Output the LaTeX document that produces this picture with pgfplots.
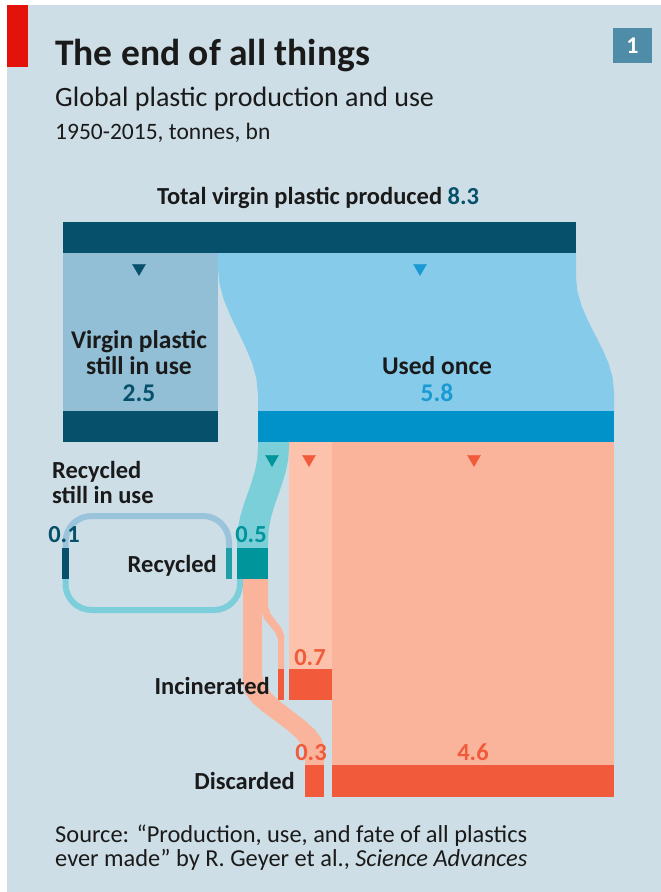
\documentclass[border=0pt]{standalone}
\usepackage{pgfplots}
\pgfplotsset{compat=1.18}
\usepackage{fontspec}
\setmainfont{Carlito}
\definecolor{bg}{HTML}{CDDEE7}
\definecolor{ecored}{HTML}{E3120B}
\definecolor{boxblue}{HTML}{4F8CA8}
\definecolor{dteal}{HTML}{07506B}
\definecolor{virgin}{HTML}{92BFD6}
\definecolor{usedflow}{HTML}{87CBEA}
\definecolor{usedbar}{HTML}{0092C8}
\definecolor{usedtxt}{HTML}{1A9AD3}
\definecolor{tealflow}{HTML}{7ACFD9}
\definecolor{recbar}{HTML}{00949B}
\definecolor{recthin}{HTML}{1FA0A8}
\definecolor{looptop}{HTML}{9AC4DB}
\definecolor{loopbot}{HTML}{7CCFDA}
\definecolor{incflow}{HTML}{FCC2AC}
\definecolor{disflow}{HTML}{F9B49B}
\definecolor{redbar}{HTML}{F15A3B}
\definecolor{ink}{HTML}{1A1A1A}
\newcommand\fs[1]{\fontsize{#1bp}{#1bp}\selectfont}
\begin{document}
\begin{tikzpicture}
\begin{axis}[width=661bp,height=892bp,scale only axis,
  xmin=0,xmax=661,ymin=0,ymax=892,y dir=reverse,hide axis,clip=false]
% background
\addplot[fill=white,draw=none] coordinates {(0,0)(661,0)(661,892)(0,892)} --cycle;
\addplot[fill=bg,draw=none] coordinates {(7,5)(661,5)(661,892)(7,892)} --cycle;
\addplot[fill=ecored,draw=none] coordinates {(7,5)(28,5)(28,67)(7,67)} --cycle;
\addplot[fill=boxblue,draw=none] coordinates {(613,28)(652,28)(652,63)(613,63)} --cycle;
% total virgin plastic 8.3
\addplot[fill=dteal,draw=none] coordinates {(63,222)(576,222)(576,253)(63,253)} --cycle;
% virgin still in use 2.5
\addplot[fill=virgin,draw=none] coordinates {(63,253)(218,253)(218,411)(63,411)} --cycle;
\addplot[fill=dteal,draw=none] coordinates {(63,411)(218,411)(218,442)(63,442)} --cycle;
% used once flow 5.8
\addplot[fill=usedflow,draw=none] coordinates {
 (218,253)(576,253)(576,277)(577.4,291.4)(581.5,305.75)(587.7,320.1)(595,334.5)
 (602.3,348.9)(608.5,363.25)(612.6,377.6)(614,392)(614,412)
 (258,412)(258,395)(256.5,379.1)(252.2,363.25)(245.6,347.4)(238,331.5)
 (230.4,315.6)(223.8,299.75)(219.5,283.9)(218,268)} --cycle;
\addplot[fill=usedbar,draw=none] coordinates {(258,411)(614,411)(614,442)(258,442)} --cycle;
% incinerated and discarded flows
\addplot[fill=incflow,draw=none] coordinates {(289,442)(332,442)(332,669)(289,669)} --cycle;
\addplot[fill=disflow,draw=none] coordinates {(332,442)(614,442)(614,765)(332,765)} --cycle;
% recycled flow 0.5
\addplot[fill=tealflow,draw=none] coordinates {
 (258,442)(289,442)(289,448)(288.2,459.5)(285.9,471)(282.5,482.5)(278.5,494)
 (274.5,505.5)(271.1,517)(268.8,528.5)(268,540)(268,548)
 (237,548)(237,540)(237.8,528.5)(240.1,517)(243.5,505.5)(247.5,494)
 (251.5,482.5)(254.9,471)(257.2,459.5)(258,448)} --cycle;
% loops
\addplot[draw=looptop,line width=6bp,rounded corners=26bp] coordinates {(65.5,549)(65.5,516)(229,516)(229,549)};
\addplot[draw=loopbot,line width=6bp,rounded corners=26bp] coordinates {(240,578)(240,610)(65.5,610)(65.5,578)};
% pink flows from recycled
\addplot[fill=disflow,draw=none] coordinates {
 (243,579)(262,579)(262,675)(264.4,684.1)(271.1,693.25)(281.2,702.4)(293,711.5)
 (304.8,720.6)(314.9,729.75)(321.6,738.9)(324,748)(324,765)
 (305,765)(305,755)(302.6,746.25)(295.9,737.5)(285.8,728.75)(274,720)
 (262.2,711.25)(252.1,702.5)(245.4,693.75)(243,685)} --cycle;
\addplot[fill=disflow,draw=none] coordinates {
 (262,579)(268,579)(268,606)(270.3,613.5)(276,621)(281.7,628.5)(284,636)(284,669)
 (278,669)(278,640)(275.7,633)(270,626)(264.3,619)(262,612)} --cycle;
% recycled bars
\addplot[fill=recbar,draw=none] coordinates {(237,548)(268,548)(268,579)(237,579)} --cycle;
\addplot[fill=recthin,draw=none] coordinates {(226,548)(232,548)(232,579)(226,579)} --cycle;
\addplot[fill=dteal,draw=none] coordinates {(62,548)(69,548)(69,579)(62,579)} --cycle;
% incinerated bars
\addplot[fill=redbar,draw=none] coordinates {(289,669)(332,669)(332,700)(289,700)} --cycle;
\addplot[fill=redbar,draw=none] coordinates {(278,669)(284,669)(284,700)(278,700)} --cycle;
% discarded bars
\addplot[fill=redbar,draw=none] coordinates {(332,765)(614,765)(614,797)(332,797)} --cycle;
\addplot[fill=redbar,draw=none] coordinates {(305,765)(324,765)(324,797)(305,797)} --cycle;
% triangles
\addplot[only marks,mark=triangle*,mark size=7.5bp,color=dteal,mark options={rotate=180}] coordinates {(139,268)};
\addplot[only marks,mark=triangle*,mark size=7.5bp,color=usedtxt,mark options={rotate=180}] coordinates {(420,268)};
\addplot[only marks,mark=triangle*,mark size=7.5bp,color=recbar,mark options={rotate=180}] coordinates {(272,459)};
\addplot[only marks,mark=triangle*,mark size=7.5bp,color=redbar,mark options={rotate=180}] coordinates {(309,459)};
\addplot[only marks,mark=triangle*,mark size=7.5bp,color=redbar,mark options={rotate=180}] coordinates {(474,459)};
% texts
\node[anchor=base west,inner sep=0,text=ink] at (axis cs:55,66) {\fs{37.5}\bfseries The end of all things};
\node[anchor=base west,inner sep=0,text=ink] at (axis cs:55,107) {\fs{28}Global plastic production and use};
\node[anchor=base west,inner sep=0,text=ink] at (axis cs:55,140) {\fs{23.5}1950-2015, tonnes, bn};
\node[anchor=center,inner sep=0,text=white] at (axis cs:632.5,45.5) {\fs{24}\bfseries 1};
\node[anchor=base,inner sep=0,text=ink] at (axis cs:318,205) {\fs{24.5}\bfseries Total virgin plastic produced \textcolor{dteal}{8.3}};
\node[anchor=base,inner sep=0,text=ink] at (axis cs:139,348) {\fs{25.5}\bfseries Virgin plastic};
\node[anchor=base,inner sep=0,text=ink] at (axis cs:139,374) {\fs{25.5}\bfseries still in use};
\node[anchor=base,inner sep=0,text=dteal] at (axis cs:139,401) {\fs{25.5}\bfseries 2.5};
\node[anchor=base,inner sep=0,text=ink] at (axis cs:437,374) {\fs{25.5}\bfseries Used once};
\node[anchor=base,inner sep=0,text=usedtxt] at (axis cs:437,401) {\fs{25.5}\bfseries 5.8};
\node[anchor=base west,inner sep=0,text=ink] at (axis cs:52,478) {\fs{24.5}\bfseries Recycled};
\node[anchor=base west,inner sep=0,text=ink] at (axis cs:52,503) {\fs{24.5}\bfseries still in use};
\node[anchor=base,inner sep=0,text=dteal] at (axis cs:64,542) {\fs{24.5}\bfseries 0.1};
\node[anchor=base,inner sep=0,text=recbar] at (axis cs:251,542) {\fs{24.5}\bfseries 0.5};
\node[anchor=base east,inner sep=0,text=ink] at (axis cs:217,572) {\fs{24.5}\bfseries Recycled};
\node[anchor=base east,inner sep=0,text=ink] at (axis cs:270,694) {\fs{24.5}\bfseries Incinerated};
\node[anchor=base,inner sep=0,text=redbar] at (axis cs:310,665) {\fs{24.5}\bfseries 0.7};
\node[anchor=base,inner sep=0,text=redbar] at (axis cs:311,760) {\fs{24.5}\bfseries 0.3};
\node[anchor=base,inner sep=0,text=redbar] at (axis cs:473,760) {\fs{24.5}\bfseries 4.6};
\node[anchor=base east,inner sep=0,text=ink] at (axis cs:295,789) {\fs{24.5}\bfseries Discarded};
\node[anchor=base west,inner sep=0,text=ink] at (axis cs:55,842) {\fs{24.4}Source: “Production, use, and fate of all plastics};
\node[anchor=base west,inner sep=0,text=ink] at (axis cs:55,866) {\fs{24.4}ever made” by R. Geyer et al., \textit{Science Advances}};
\end{axis}
\end{tikzpicture}
\end{document}
